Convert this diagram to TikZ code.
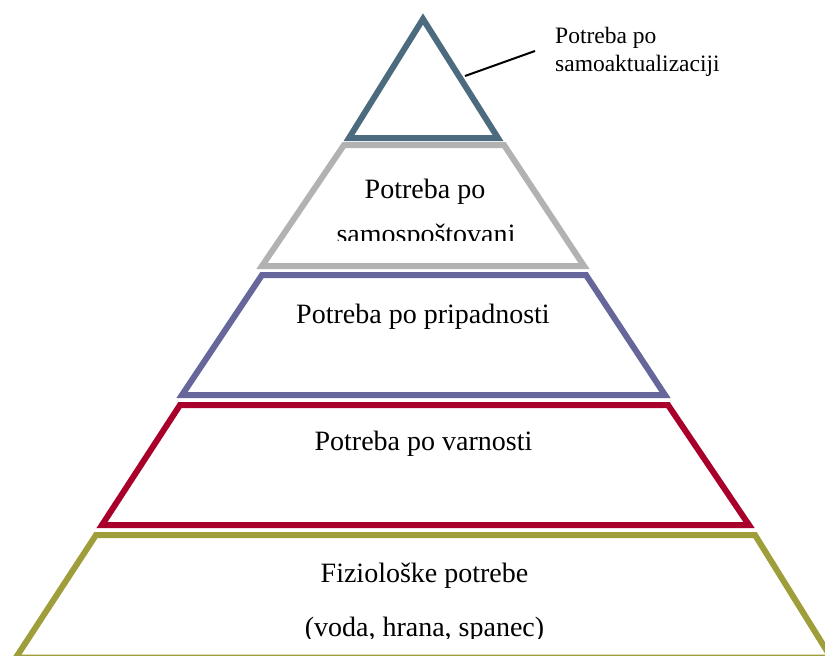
\documentclass[tikz,border=0pt]{standalone}
\usepackage{fontspec}
\setmainfont{Liberation Serif}
\definecolor{cTop}{HTML}{4D6B7F}
\definecolor{cGray}{HTML}{B2B2B2}
\definecolor{cPurple}{HTML}{66669A}
\definecolor{cRed}{HTML}{A8002B}
\definecolor{cOlive}{HTML}{9E9E3A}
\begin{document}
\begin{tikzpicture}[x=1pt,y=-1pt,
  level/.style={line width=6pt,line join=miter},
  bigtext/.style={font=\fontsize{28}{34}\selectfont,anchor=base,inner sep=0pt},
  smalltext/.style={font=\fontsize{23.5}{28}\selectfont,anchor=base west,inner sep=0pt}]
\useasboundingbox (0,0) rectangle (825,656);
\clip (0,0) rectangle (825,656);
% levels
\draw[level,cTop] (423,19) -- (498,138) -- (349,138) -- cycle;
\draw[level,cGray] (344,145) -- (504,145) -- (584,266) -- (262,266) -- cycle;
\draw[level,cPurple] (262,275) -- (586,275) -- (665,395) -- (182,395) -- cycle;
\draw[level,cRed] (180,405) -- (668,405) -- (749,525) -- (102,525) -- cycle;
\draw[level,cOlive] (96,535) -- (755,535) -- (831,657.5) -- (16,657.5) -- cycle;
% texts
\begin{scope}
\clip (0,0) rectangle (825,240);
\node[bigtext] (t2a) at (425,198) {Potreba po};
\node[bigtext] (t2b) at (426,243) {samospoštovanj};
\end{scope}
\node[bigtext] (t3) at (423,323) {Potreba po pripadnosti};
\node[bigtext] (t4) at (423.5,450) {Potreba po varnosti};
\begin{scope}
\clip (0,0) rectangle (825,638);
\node[bigtext] (t5a) at (424.5,582) {Fiziološke potrebe};
\node[bigtext] (t5b) at (424.5,636) {(voda, hrana, spanec)};
\end{scope}
\node[smalltext] (l1a) at (555,43) {Potreba po};
\node[smalltext] (l1b) at (555,71) {samoaktualizaciji};
\coordinate (lead1) at (465,76);
\coordinate (lead2) at (535,51);
\draw[line width=2pt] (lead1) -- (lead2);
\end{tikzpicture}
\end{document}
